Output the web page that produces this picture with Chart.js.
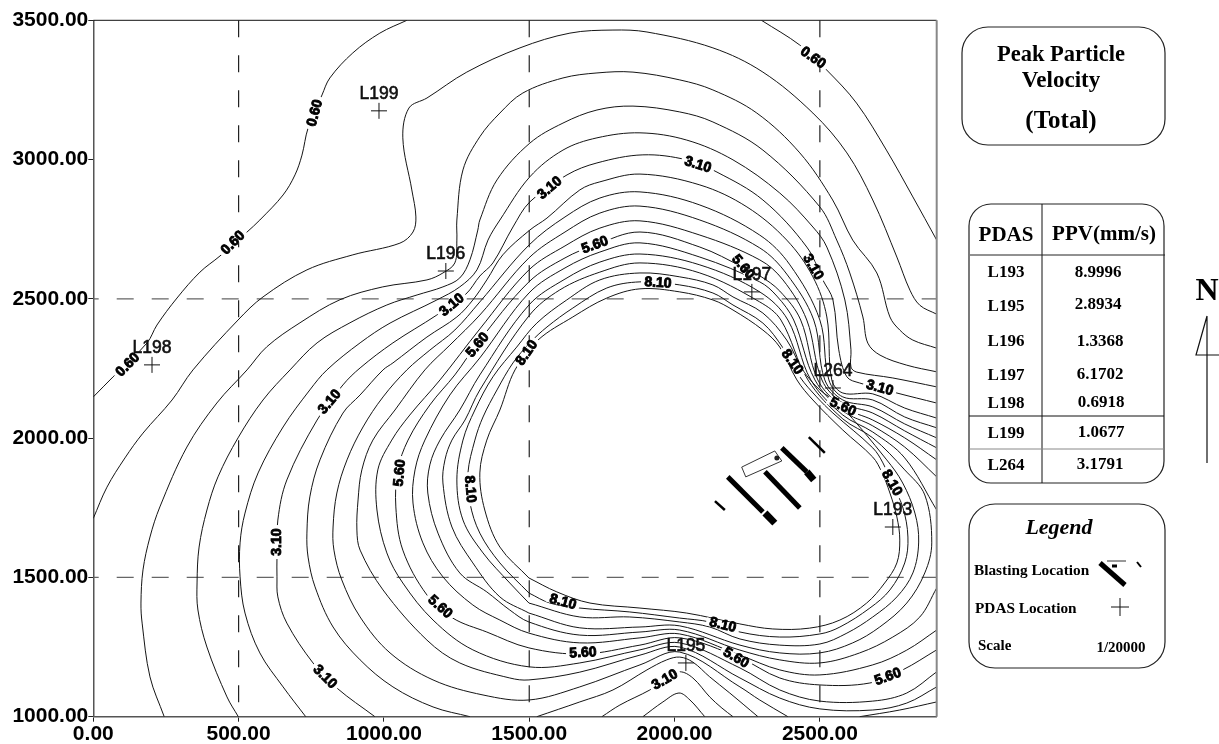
<!DOCTYPE html>
<html>
<head>
<meta charset="utf-8">
<title>Peak Particle Velocity (Total)</title>
<script src="https://cdn.jsdelivr.net/npm/chart.js@4"></script>
<style>
    html, body { margin: 0; padding: 0; background: #fff; }
    canvas { display: block; }
</style>
</head>
<body>
<canvas id="ppv-map" width="1219" height="744"></canvas>
<script>
// contour lines, [easting, northing]
const c060a = [[0,2148],[68,2220],[185,2342],[219,2406],[288,2503],[367,2596],[436,2654],[529,2740],[573,2783],[653,2873],[694,2945],[718,3016],[739,3113],[787,3232],[814,3293],[893,3383],[986,3454],[1079,3500]];
const c060b = [[2299,3500],[2431,3411],[2523,3322],[2626,3203],[2729,3034],[2820,2866],[2902,2711]];
const c110 = [[0,1712],[47,1824],[109,1929],[171,2018],[271,2137],[343,2245],[498,2424],[584,2507],[735,2604],[893,2658],[1055,2700],[1100,2740],[1110,2794],[1096,2891],[1065,3078],[1086,3185],[1148,3221],[1285,3314],[1468,3401],[1640,3454],[1788,3465],[1905,3458],[2132,3401],[2304,3314],[2476,3167],[2593,3024],[2682,2855],[2765,2650],[2810,2531],[2844,2477],[2902,2445]];
const c160 = [[244,1000],[195,1143],[168,1336],[164,1408],[171,1527],[195,1645],[229,1753],[322,1968],[425,2126],[529,2245],[597,2328],[711,2414],[849,2497],[996,2543],[1148,2568],[1203,2593],[1244,2629],[1251,2711],[1251,2783],[1272,2963],[1330,3082],[1399,3167],[1478,3239],[1616,3293],[1733,3311],[1857,3314],[2018,3286],[2132,3250],[2283,3167],[2431,3024],[2544,2855],[2613,2711],[2696,2593],[2741,2435],[2775,2388],[2820,2352],[2902,2323]];
const c210 = [[499,1000],[460,1071],[391,1250],[360,1383],[357,1480],[364,1609],[391,1742],[429,1861],[498,2001],[584,2137],[677,2245],[770,2342],[883,2414],[1010,2478],[1114,2514],[1203,2543],[1261,2575],[1296,2640],[1323,2747],[1330,2783],[1389,2927],[1502,3059],[1616,3131],[1733,3178],[1857,3192],[2018,3171],[2132,3135],[2304,3034],[2500,2830],[2558,2711],[2603,2593],[2648,2435],[2665,2341],[2707,2298],[2799,2262],[2902,2238]];
const c260a = [[731,1000],[653,1107],[573,1229],[522,1372],[505,1502],[505,1624],[522,1731],[567,1875],[653,2040],[745,2173],[804,2245],[918,2342],[1021,2413],[1182,2496],[1261,2543],[1320,2604],[1358,2711],[1399,2783],[1502,2938],[1616,3034],[1733,3078],[1881,3096],[2042,3070],[2201,2999],[2362,2880],[2476,2758],[2524,2686],[2586,2496],[2607,2317],[2607,2255],[2627,2237],[2751,2216],[2902,2184]];
const c260b = [[1891,1000],[1960,1053],[2015,1085],[2053,1060],[2104,1000]];
const c310a = [[969,1000],[838,1103],[756,1193],[666,1336],[635,1430],[632,1502],[632,1573],[635,1706],[666,1850],[770,2065],[859,2191],[918,2252],[1031,2342],[1182,2442],[1282,2517],[1330,2582],[1375,2629],[1444,2758],[1502,2848],[1630,2945],[1733,2988],[1891,3017],[2042,2999],[2146,2955],[2304,2855],[2455,2686],[2510,2568],[2545,2496],[2565,2317],[2593,2220],[2637,2198],[2765,2162],[2902,2126]];
const c310b = [[1750,1000],[1812,1042],[1915,1096],[1967,1132],[2018,1161],[2063,1139],[2121,1071],[2163,1031],[2201,1000]];
const c360a = [[1296,1000],[1169,1035],[1031,1107],[918,1204],[825,1322],[763,1466],[739,1573],[735,1659],[745,1789],[780,1922],[859,2090],[918,2155],[997,2245],[1031,2270],[1148,2363],[1251,2435],[1306,2496],[1354,2568],[1409,2658],[1502,2747],[1561,2790],[1674,2891],[1743,2920],[1881,2948],[2087,2909],[2249,2830],[2386,2711],[2476,2579],[2524,2435],[2541,2209],[2579,2162],[2682,2159],[2792,2108],[2902,2072]];
const c360b = [[1526,1000],[1674,1053],[1788,1096],[1905,1168],[1973,1204],[2018,1214],[2063,1196],[2121,1143],[2190,1085],[2287,1000]];
const c410a = [[2390,1000],[2293,1060],[2225,1107],[2018,1232],[1881,1186],[1674,1107],[1499,1060],[1341,1078],[1169,1132],[1021,1229],[918,1358],[855,1491],[828,1598],[825,1681],[838,1803],[873,1922],[928,2040],[997,2148],[1079,2245],[1158,2316],[1244,2388],[1330,2489],[1499,2693],[1623,2794],[1743,2862],[1881,2884],[2087,2837],[2293,2729],[2397,2622],[2500,2424],[2531,2209],[2579,2148],[2682,2137],[2792,2076],[2902,2037]];
const c410b = [[2637,1000],[2775,1024],[2902,1053]];
const c460 = [[2902,1107],[2799,1049],[2682,1024],[2500,1028],[2362,1067],[2225,1139],[2018,1250],[1881,1221],[1674,1160],[1499,1132],[1433,1139],[1261,1193],[1148,1275],[997,1455],[918,1598],[907,1670],[911,1778],[924,1886],[962,1993],[1038,2101],[1141,2245],[1227,2334],[1330,2442],[1499,2647],[1623,2740],[1743,2808],[1881,2833],[2087,2783],[2293,2683],[2386,2589],[2479,2424],[2517,2209],[2579,2137],[2682,2112],[2792,2051],[2902,2001]];
const c510 = [[2902,1161],[2799,1085],[2682,1056],[2500,1056],[2362,1096],[2225,1175],[2018,1265],[1881,1240],[1674,1193],[1499,1179],[1306,1240],[1169,1347],[1065,1480],[1010,1588],[976,1742],[979,1886],[1027,1993],[1089,2083],[1193,2209],[1330,2392],[1499,2604],[1623,2690],[1743,2754],[1881,2780],[2087,2729],[2293,2640],[2373,2568],[2455,2424],[2507,2209],[2579,2126],[2682,2090],[2792,2026],[2902,1965]];
const c560 = [[2902,1240],[2785,1168],[2672,1121],[2500,1114],[2362,1139],[2225,1211],[2018,1283],[1881,1257],[1685,1225],[1499,1247],[1354,1304],[1237,1354],[1148,1437],[1065,1598],[1041,1753],[1048,1886],[1083,1993],[1158,2119],[1244,2227],[1323,2342],[1499,2561],[1623,2647],[1726,2693],[1881,2740],[2087,2686],[2235,2614],[2293,2583],[2362,2528],[2434,2424],[2493,2209],[2579,2112],[2682,2065],[2792,2001],[2902,1922]];
const c610 = [[2902,1311],[2799,1239],[2682,1186],[2500,1150],[2362,1168],[2225,1221],[2018,1297],[1881,1283],[1674,1265],[1499,1300],[1399,1347],[1306,1401],[1203,1502],[1134,1624],[1100,1767],[1107,1886],[1141,1993],[1227,2155],[1330,2288],[1499,2521],[1623,2611],[1743,2668],[1881,2701],[2087,2650],[2293,2561],[2352,2510],[2410,2424],[2483,2209],[2579,2098],[2682,2044],[2792,1968],[2902,1861]];
const c660 = [[2902,1462],[2844,1358],[2751,1286],[2637,1229],[2500,1193],[2362,1204],[2225,1239],[2018,1311],[1881,1304],[1674,1293],[1499,1340],[1433,1383],[1354,1448],[1261,1516],[1186,1659],[1151,1803],[1158,1904],[1193,1993],[1261,2101],[1330,2227],[1499,2478],[1623,2571],[1743,2632],[1881,2661],[2087,2622],[2293,2525],[2390,2424],[2469,2209],[2579,2083],[2682,2022],[2792,1929],[2902,1742]];
const c710 = [[1499,1372],[1399,1430],[1306,1552],[1234,1681],[1203,1839],[1210,1922],[1234,1993],[1279,2065],[1330,2173],[1499,2439],[1605,2532],[1743,2596],[1881,2629],[2087,2593],[2293,2489],[2366,2424],[2459,2209],[2579,2069],[2682,2001],[2792,1886],[2861,1796],[2885,1624],[2861,1516],[2799,1408],[2706,1322],[2613,1265],[2500,1229],[2362,1229],[2225,1257],[2018,1326],[1881,1322],[1674,1319],[1499,1372]];
const c760 = [[1499,1408],[1433,1480],[1341,1588],[1272,1706],[1251,1850],[1272,1993],[1313,2101],[1375,2220],[1457,2327],[1526,2413],[1629,2496],[1743,2568],[1881,2593],[2018,2579],[2132,2550],[2201,2507],[2304,2449],[2386,2352],[2441,2245],[2500,2173],[2569,2119],[2730,1922],[2785,1839],[2827,1731],[2840,1627],[2820,1516],[2765,1430],[2682,1358],[2593,1300],[2500,1261],[2362,1257],[2225,1279],[2121,1322],[2018,1340],[1846,1358],[1674,1358],[1499,1408]];
const c810 = [[1499,1444],[1399,1552],[1330,1659],[1296,1767],[1289,1875],[1313,1993],[1341,2076],[1389,2173],[1444,2270],[1502,2342],[1561,2399],[1650,2467],[1767,2539],[1881,2561],[2018,2550],[2132,2521],[2201,2478],[2304,2413],[2373,2324],[2431,2220],[2489,2148],[2545,2090],[2682,1965],[2717,1911],[2747,1839],[2785,1753],[2803,1645],[2792,1552],[2741,1455],[2672,1390],[2569,1322],[2500,1297],[2362,1286],[2225,1304],[2121,1340],[2018,1354],[1846,1376],[1674,1390],[1571,1408],[1499,1444]];
const c860 = [[1499,1498],[1399,1609],[1347,1742],[1330,1875],[1354,1993],[1399,2101],[1451,2245],[1530,2352],[1650,2435],[1767,2503],[1881,2536],[2018,2525],[2132,2496],[2201,2460],[2304,2388],[2362,2327],[2421,2209],[2476,2137],[2579,2029],[2682,1932],[2713,1878],[2741,1803],[2765,1717],[2775,1634],[2765,1552],[2723,1480],[2661,1408],[2569,1347],[2465,1318],[2338,1315],[2225,1333],[2042,1372],[1881,1390],[1709,1408],[1595,1448],[1499,1498]];

const contours = [c060a, c060b, c110, c160, c210, c260a, c260b, c310a, c310b, c360a, c360b, c410a, c410b, c460, c510, c560, c610, c660, c710, c760, c810, c860];

// text sitting on the contours
const level_text  = ['0.60','0.60','0.60','0.60','3.10','3.10','3.10','3.10','3.10','3.10','3.10','3.10','3.10','5.60','5.60','5.60','5.60','5.60','5.60','5.60','5.60','5.60','8.10','8.10','8.10','8.10','8.10','8.10','8.10'];
const level_x     = [763,481,119,2476,1234,632,814,797,1571,2080,2476,2706,1967,1323,1726,2235,1055,1193,1685,2211,2734,2579,1492,1943,2404,1296,1616,2166,2747];
const level_y     = [3167,2701,2263,3365,2478,1627,2130,1143,2898,2981,2614,2180,1132,2334,2693,2614,1875,1394,1229,1211,1143,2112,2306,2557,2273,1817,1412,1329,1839];
const level_angle = [-75,-45,-45,35,-40,-90,-50,45,-40,17,60,15,-30,-50,-20,50,-85,42,-3,30,-20,25,-55,3,55,85,15,13,60];

// PDAS stations
const station_names = ['L193','L195','L196','L197','L198','L199','L264'];
const station_x     = [2751,2039,1213,2266,202,983,2545];
const station_y     = [1681,1193,2600,2525,2263,3175,2180];
const ppv_values    = ['8.9996','2.8934','1.3368','6.1702','0.6918','1.0677','3.1791'];

// blasting location
const blast_thick = [[[2183,1861],[2304,1735]], [[2311,1879],[2431,1749]], [[2369,1965],[2455,1879]]];
const blast_heavy = [[[2311,1731],[2345,1695]], [[2455,1879],[2479,1850]]];
const blast_thin  = [[[2462,2004],[2517,1947]], [[2139,1774],[2173,1742]]];
const blast_box   = [[2231,1896],[2345,1954],[2369,1918],[2245,1861],[2231,1896]];
const blast_dot   = [[2352,1929]];

const x_max = 2902;
const x_tick_values = [0, 500, 1000, 1500, 2000, 2500];
const y_tick_values = [1000, 1500, 2000, 2500, 3000, 3500];
const grid_x = [500, 1500, 2500];
const grid_y = [1500, 2500];

const toPoints = (pairs) => pairs.map(p => ({x: p[0], y: p[1]}));

const lineSet = (pairs, width, order) => ({
    data: toPoints(pairs),
    showLine: true,
    pointRadius: 0,
    borderColor: '#000',
    borderWidth: width,
    tension: 0,
    order: order
});

var datasets = [];

grid_x.forEach(v => {
    datasets.push(Object.assign(lineSet([[v, 3500], [v, 1000]], 1.2, 5), {
        borderColor: '#222', borderDash: [17, 18]
    }));
});
grid_y.forEach(v => {
    datasets.push(Object.assign(lineSet([[0, v], [x_max, v]], 1.2, 5), {
        borderColor: '#666', borderDash: [17, 18], borderDashOffset: 11.6
    }));
});
contours.forEach(c => {
    datasets.push(Object.assign(lineSet(c, 1, 3), {borderColor: '#151515', tension: 0.35}));
});
blast_thick.forEach(b => datasets.push(lineSet(b, 5, 2)));
blast_heavy.forEach(b => datasets.push(lineSet(b, 7, 2)));
blast_thin.forEach(b => datasets.push(lineSet(b, 2.5, 2)));
datasets.push(lineSet(blast_box, 0.8, 2));
datasets.push({
    data: toPoints(blast_dot), pointRadius: 2.5, backgroundColor: '#222', borderWidth: 0, showLine: false, order: 2
});
datasets.push({
    data: station_x.map((v, i) => ({x: v, y: station_y[i]})),
    showLine: false,
    pointStyle: 'cross',
    pointRadius: 8,
    borderColor: '#111',
    borderWidth: 1,
    order: 1
});

const roundBox = (ctx, x, y, w, h, r) => {
    ctx.beginPath();
    ctx.roundRect(x, y, w, h, r);
    ctx.lineWidth = 1.2;
    ctx.strokeStyle = '#222';
    ctx.stroke();
};

const segment = (ctx, x1, y1, x2, y2, width, color) => {
    ctx.beginPath();
    ctx.moveTo(x1, y1);
    ctx.lineTo(x2, y2);
    ctx.lineWidth = width;
    ctx.strokeStyle = color || '#000';
    ctx.stroke();
};

const serifText = (ctx, text, x, y, font, align) => {
    ctx.font = font;
    ctx.textAlign = align || 'center';
    ctx.textBaseline = 'middle';
    ctx.fillStyle = '#000';
    ctx.fillText(text, x, y);
};

// contour numbers, station names, frame and the panels on the right
const mapDecor = {
    id: 'mapDecor',
    afterDatasetsDraw: function (chart) {
        const ctx = chart.ctx;
        const sx = chart.scales.x;
        const sy = chart.scales.y;
        const area = chart.chartArea;
        ctx.save();

        segment(ctx, area.left, area.top, area.right, area.top, 1, '#111');
        segment(ctx, area.right, area.top, area.right, area.bottom, 2, '#888');

        level_text.forEach((t, i) => {
            ctx.save();
            ctx.translate(sx.getPixelForValue(level_x[i]), sy.getPixelForValue(level_y[i]));
            ctx.rotate(level_angle[i] * Math.PI / 180);
            ctx.fillStyle = '#fff';
            ctx.fillRect(-17, -4, 34, 8);
            ctx.font = 'bold 14px "Liberation Sans"';
            ctx.textAlign = 'center';
            ctx.textBaseline = 'middle';
            ctx.fillStyle = '#000';
            ctx.strokeStyle = '#000';
            ctx.lineWidth = 0.9;
            ctx.strokeText(t, 0, 0);
            ctx.fillText(t, 0, 0);
            ctx.restore();
        });

        ctx.font = '17.5px "Liberation Sans"';
        ctx.textAlign = 'center';
        ctx.textBaseline = 'middle';
        ctx.fillStyle = '#111';
        ctx.strokeStyle = '#111';
        ctx.lineWidth = 0.6;
        station_names.forEach((t, i) => {
            const px = sx.getPixelForValue(station_x[i]);
            const py = sy.getPixelForValue(station_y[i]) - 17;
            ctx.fillText(t, px, py);
            ctx.strokeText(t, px, py);
        });

        // title box
        roundBox(ctx, 962, 27, 203, 118, 26);
        serifText(ctx, 'Peak Particle', 1061, 55, 'bold 22.5px "Liberation Serif"');
        serifText(ctx, 'Velocity', 1061, 81, 'bold 23px "Liberation Serif"');
        serifText(ctx, '(Total)', 1061, 122, 'bold 25px "Liberation Serif"');

        // PPV table
        roundBox(ctx, 969, 204, 195, 279, 22);
        segment(ctx, 1042, 204, 1042, 483, 1, '#111');
        segment(ctx, 970, 255, 1165, 255, 1, '#222');
        segment(ctx, 969, 416, 1164, 416, 1, '#111');
        segment(ctx, 969, 449, 1164, 449, 1, '#888');
        serifText(ctx, 'PDAS', 1006, 236, 'bold 21px "Liberation Serif"');
        serifText(ctx, 'PPV(mm/s)', 1104, 235, 'bold 21px "Liberation Serif"');
        const row_name_y = [273, 307, 342, 376, 404, 434, 466];
        const row_value_y = [273, 305, 342, 375, 403, 433, 465];
        const row_value_x = [1098, 1098, 1100, 1100, 1101, 1101, 1100];
        station_names.forEach((t, i) => {
            serifText(ctx, t, 1006, row_name_y[i], 'bold 17px "Liberation Serif"');
            serifText(ctx, ppv_values[i], row_value_x[i], row_value_y[i], 'bold 17px "Liberation Serif"');
        });

        // north arrow
        serifText(ctx, 'N', 1207, 292, 'bold 32px "Liberation Serif"');
        ctx.beginPath();
        ctx.moveTo(1207, 316);
        ctx.lineTo(1196, 355);
        ctx.lineTo(1219, 355);
        ctx.moveTo(1207, 316);
        ctx.lineTo(1207, 463);
        ctx.lineWidth = 1.2;
        ctx.strokeStyle = '#111';
        ctx.stroke();

        // legend box
        roundBox(ctx, 969, 504, 196, 164, 26);
        serifText(ctx, 'Legend', 1059, 528, 'italic bold 22px "Liberation Serif"');
        serifText(ctx, 'Blasting Location', 974, 571, 'bold 15.3px "Liberation Serif"', 'left');
        serifText(ctx, 'PDAS Location', 975, 609, 'bold 15.3px "Liberation Serif"', 'left');
        serifText(ctx, 'Scale', 978, 646, 'bold 15px "Liberation Serif"', 'left');
        serifText(ctx, '1/20000', 1121, 648, 'bold 15px "Liberation Serif"');
        segment(ctx, 1100, 563, 1125, 585, 5);
        segment(ctx, 1107, 561, 1126, 561, 1, '#333');
        segment(ctx, 1112, 566, 1117, 566, 3);
        segment(ctx, 1137, 562, 1141, 567, 2);
        segment(ctx, 1111, 607, 1129, 607, 1, '#111');
        segment(ctx, 1120, 598, 1120, 616, 1, '#111');

        ctx.restore();
    }
};

const axisFont = {family: '"Liberation Sans"', size: 21, weight: 'bold'};

const fixedTicks = (values) => (s) => { s.ticks = values.map(v => ({value: v})); };

new Chart(document.getElementById('ppv-map').getContext('2d'), {
    type: 'scatter',
    data: {datasets: datasets},
    options: {
        responsive: false,
        animation: false,
        devicePixelRatio: 1,
        layout: {padding: {top: 20.3, right: 282.3, left: 0, bottom: 0}},
        plugins: {legend: {display: false}, tooltip: {enabled: false}, title: {display: false}},
        scales: {
            x: {
                type: 'linear',
                min: 0,
                max: x_max,
                afterBuildTicks: fixedTicks(x_tick_values),
                afterFit: (s) => { s.height = 27.3; },
                border: {color: '#555', width: 1.5},
                grid: {drawOnChartArea: false, tickLength: 5, tickColor: '#222'},
                ticks: {
                    maxRotation: 0,
                    autoSkip: false,
                    padding: 0,
                    color: '#000',
                    font: axisFont,
                    callback: (v) => v.toFixed(2)
                }
            },
            y: {
                type: 'linear',
                min: 1000,
                max: 3500,
                afterBuildTicks: fixedTicks(y_tick_values),
                afterFit: (s) => { s.width = 93.3; },
                border: {color: '#555', width: 1.5},
                grid: {drawOnChartArea: false, tickLength: 5, tickColor: '#222'},
                ticks: {
                    autoSkip: false,
                    padding: 0,
                    color: '#000',
                    font: axisFont,
                    callback: (v) => v.toFixed(2)
                }
            }
        }
    },
    plugins: [mapDecor]
});
</script>
</body>
</html>
